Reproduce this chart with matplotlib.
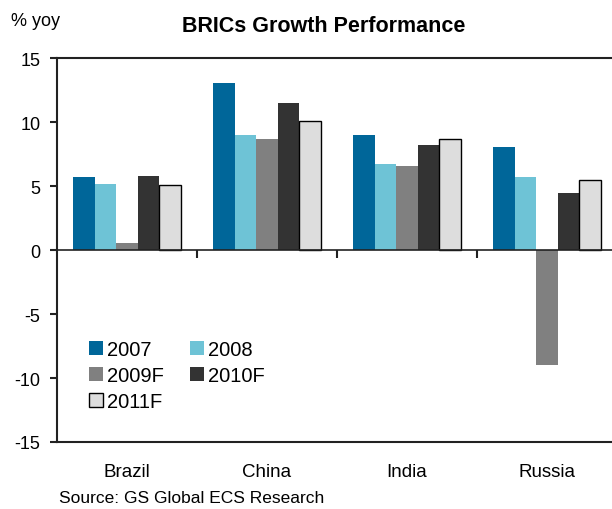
import matplotlib
matplotlib.use('Agg')
import matplotlib.pyplot as plt
import numpy as np

plt.rcParams['font.family'] = ['Liberation Sans', 'DejaVu Sans']

countries = ['Brazil', 'China', 'India', 'Russia']
series = ['2007', '2008', '2009F', '2010F', '2011F']
v2007 = [5.7, 13.05, 9.0, 8.05]
v2008 = [5.15, 9.0, 6.7, 5.7]
v2009f = [0.55, 8.65, 6.55, -8.95]
v2010f = [5.8, 11.45, 8.2, 4.45]
v2011f = [5.05, 10.05, 8.7, 5.5]
values = [v2007, v2008, v2009f, v2010f, v2011f]
bar_colors = ['#006699', '#6EC3D6', '#808080', '#333333', '#DDDDDD']
y_ticks = [-15, -10, -5, 0, 5, 10, 15]

fig = plt.figure(figsize=(6.12, 5.1), dpi=100)
ax = fig.add_axes([57 / 612, 1 - 443 / 510, 560 / 612, 384 / 510])

x = np.arange(len(countries))
width = 0.154
handles = []
for i, (name, vals, col) in enumerate(zip(series, values, bar_colors)):
    offs = (i - 2) * width
    if name == '2011F':
        b = ax.bar(x + offs, vals, width, color=col, edgecolor='black', linewidth=1, label=name)
    else:
        b = ax.bar(x + offs, vals, width, color=col, linewidth=0, label=name)
    handles.append(b)

ax.set_xlim(-0.5, len(countries) - 0.5)
ax.set_ylim(-15, 15)
ax.set_yticks(y_ticks)
ax.set_yticklabels([str(t) for t in y_ticks], fontsize=13)
ax.set_xticks(x)
ax.set_xticklabels(countries, fontsize=13.5)
ax.tick_params(axis='x', length=0, pad=15)
ax.tick_params(axis='y', length=5, width=1.5, direction='out', pad=7, color='#222222')

for side in ['top', 'left', 'bottom']:
    ax.spines[side].set_linewidth(1.5)
    ax.spines[side].set_color('#222222')
ax.spines['right'].set_visible(False)

# zero line with category separator ticks
ax.axhline(0, color='#222222', linewidth=1.2, zorder=3)
bounds = x[:-1] + 0.5
ax.vlines(np.append(bounds, len(countries) - 0.5), 0, -0.6, color='#222222', linewidth=1.5, zorder=3)

# row-major legend order
order = [0, 2, 4, 1, 3]
ax.legend([handles[k] for k in order], [series[k] for k in order],
          ncol=2, loc='upper left', bbox_to_anchor=(89 / 612, 1 - 341 / 510),
          bbox_transform=fig.transFigure, frameon=False, fontsize=14.5,
          handlelength=0.7, handleheight=0.7, handletextpad=0.2,
          columnspacing=1.3, labelspacing=0.35, borderpad=0, borderaxespad=0)

fig.text(324 / 612, 1 - 26 / 510, 'BRICs Growth Performance', fontsize=15.5,
         fontweight='bold', ha='center', va='center')
fig.text(11 / 612, 1 - 26 / 510, '% yoy', fontsize=13, ha='left', va='baseline')
fig.text(59 / 612, 1 - 503 / 510, 'Source: GS Global ECS Research', fontsize=12.5,
         ha='left', va='baseline')

fig.savefig('out.png', dpi=100)
